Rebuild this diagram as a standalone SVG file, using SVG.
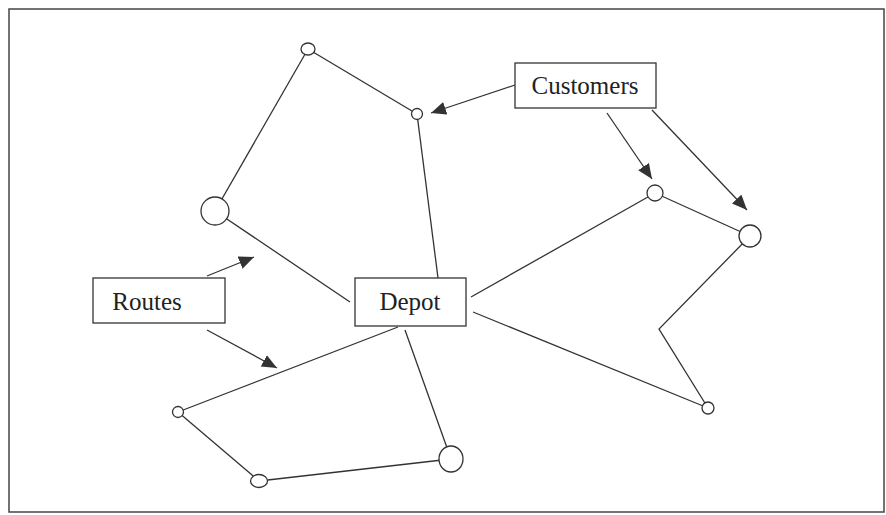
<svg xmlns="http://www.w3.org/2000/svg" width="886" height="515" viewBox="0 0 886 515">
<style>
.frame{fill:none;stroke:#444;stroke-width:1.5}
.edge{stroke:#333;stroke-width:1.3;fill:none}
.arrow{stroke:#333;stroke-width:1.3;fill:none;marker-end:url(#ah)}
.node{fill:#fff;stroke:#333;stroke-width:1.3}
.box{fill:#fff;stroke:#333;stroke-width:1.3}
.lbl{font-family:"Liberation Serif","Times New Roman",serif;font-size:25px;fill:#222;text-anchor:middle}
</style>
<defs>
<marker id="ah" markerUnits="userSpaceOnUse" markerWidth="16" markerHeight="14" refX="15" refY="6.5" orient="auto">
<path d="M0,0 L15,6.5 L0,13 z" fill="#333"/>
</marker>
</defs>
<rect class="frame" x="9" y="9" width="875" height="503"/>
<g id="connectors">
<line class="edge" x1="438" y1="278" x2="417" y2="114"/>
<line class="edge" x1="417" y1="114" x2="308" y2="49"/>
<line class="edge" x1="308" y1="49" x2="215" y2="211"/>
<line class="edge" x1="215" y1="211" x2="350" y2="302"/>
<line class="edge" x1="471" y1="297" x2="655" y2="193"/>
<line class="edge" x1="655" y1="193" x2="750" y2="236"/>
<polyline class="edge" points="750,236 659,329 708,408"/>
<line class="edge" x1="473" y1="312" x2="708" y2="408"/>
<line class="edge" x1="398" y1="327" x2="178" y2="412"/>
<line class="edge" x1="178" y1="412" x2="259" y2="481"/>
<line class="edge" x1="259" y1="481" x2="451" y2="459"/>
<line class="edge" x1="405" y1="330" x2="451" y2="459"/>
<line class="arrow" x1="515" y1="85" x2="431" y2="113"/>
<line class="arrow" x1="607" y1="113" x2="652" y2="179"/>
<line class="arrow" x1="652" y1="110" x2="747" y2="210"/>
<line class="arrow" x1="207" y1="276" x2="254" y2="257"/>
<line class="arrow" x1="207" y1="330" x2="277" y2="368"/>
</g>
<g id="n-a"><ellipse class="node" cx="308" cy="49" rx="7" ry="6"/></g>
<g id="n-b"><circle class="node" cx="417" cy="114" r="5.5"/></g>
<g id="n-c"><circle class="node" cx="215" cy="211" r="14"/></g>
<g id="n-d"><circle class="node" cx="655" cy="193" r="8"/></g>
<g id="n-e"><circle class="node" cx="750" cy="236" r="11"/></g>
<g id="n-f"><circle class="node" cx="708" cy="408" r="6"/></g>
<g id="n-g"><circle class="node" cx="178" cy="412" r="5.5"/></g>
<g id="n-h"><ellipse class="node" cx="259" cy="481" rx="8.5" ry="6.5"/></g>
<g id="n-i"><ellipse class="node" cx="451" cy="459" rx="12" ry="13"/></g>
<g id="depot"><rect class="box" x="355" y="278" width="111" height="48"/><text class="lbl" x="410" y="310">Depot</text></g>
<g id="routes"><rect class="box" x="93" y="278" width="132" height="45"/><text class="lbl" x="147" y="310">Routes</text></g>
<g id="customers"><rect class="box" x="515" y="63" width="141" height="45"/><text class="lbl" x="585" y="94">Customers</text></g>
</svg>
